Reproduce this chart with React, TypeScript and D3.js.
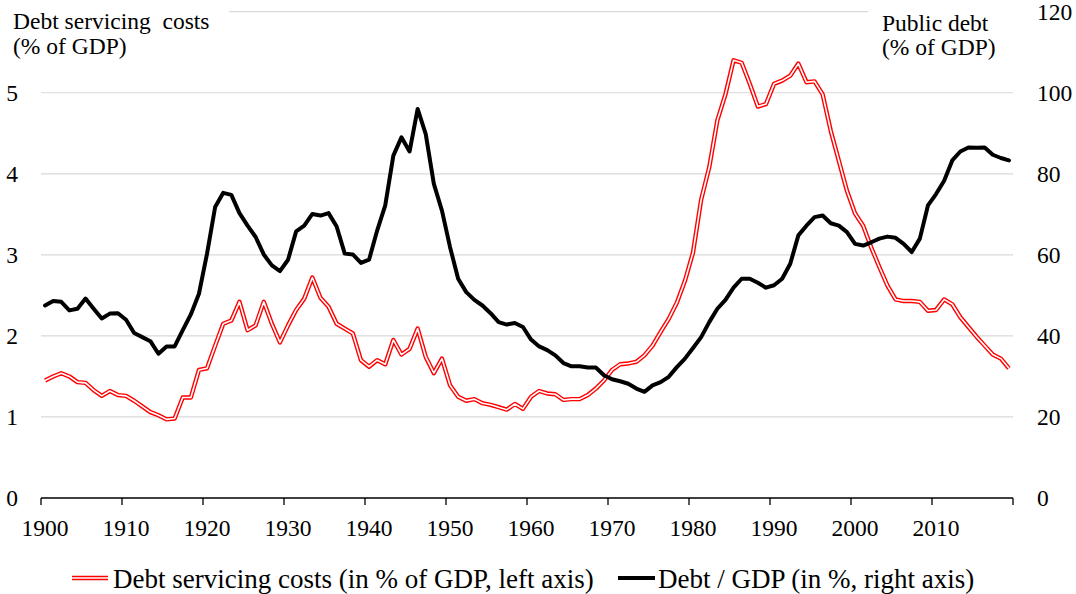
import * as d3 from "d3";

// Annual values, 1900-2019
const firstYear = 1900;
const servicingCosts = [
  1.45, 1.5, 1.54, 1.5, 1.43, 1.42, 1.33, 1.26, 1.32, 1.27,
  1.26, 1.2, 1.13, 1.06, 1.02, 0.97, 0.98, 1.24, 1.24, 1.58,
  1.6, 1.88, 2.15, 2.19, 2.42, 2.07, 2.13, 2.42, 2.15, 1.92,
  2.13, 2.32, 2.46, 2.72, 2.47, 2.36, 2.15, 2.09, 2.03, 1.7,
  1.62, 1.7, 1.65, 1.95, 1.77, 1.84, 2.09, 1.74, 1.54, 1.72,
  1.39, 1.25, 1.2, 1.22, 1.17, 1.15, 1.12, 1.09, 1.16, 1.1,
  1.25, 1.32, 1.29, 1.28, 1.21, 1.22, 1.22, 1.27, 1.35, 1.45,
  1.58, 1.65, 1.66, 1.68, 1.76, 1.88, 2.05, 2.21, 2.41, 2.68,
  3.03, 3.68, 4.08, 4.66, 4.98, 5.4, 5.37, 5.11, 4.83, 4.86,
  5.11, 5.15, 5.21, 5.36, 5.13, 5.14, 4.98, 4.53, 4.16, 3.79,
  3.51, 3.36, 3.09, 2.85, 2.62, 2.45, 2.43, 2.43, 2.42, 2.31,
  2.32, 2.45, 2.39, 2.23, 2.11, 1.99, 1.88, 1.77, 1.72, 1.6,
];
const debtToGdp = [
  47.5, 48.6, 48.4, 46.3, 46.7, 49.2, 46.7, 44.3, 45.5, 45.6,
  44.0, 40.7, 39.7, 38.7, 35.6, 37.4, 37.4, 41.4, 45.3, 50.4,
  60.3, 71.8, 75.3, 74.8, 70.3, 67.2, 64.4, 60.1, 57.4, 56.0,
  58.8, 65.8, 67.2, 70.1, 69.7, 70.3, 67.0, 60.3, 60.1, 58.0,
  58.8, 66.0, 72.2, 84.5, 89.0, 85.5, 96.0, 89.8, 77.5, 70.9,
  61.9, 54.1, 50.8, 48.9, 47.5, 45.6, 43.4, 42.8, 43.2, 42.2,
  39.1, 37.4, 36.5, 35.2, 33.3, 32.5, 32.5, 32.2, 32.2, 30.3,
  29.3, 28.8, 28.2, 27.0, 26.2, 27.8, 28.6, 29.9, 32.3, 34.4,
  37.0, 39.7, 43.4, 46.7, 48.9, 51.9, 54.1, 54.1, 53.1, 51.9,
  52.5, 54.1, 57.8, 64.8, 67.2, 69.3, 69.7, 67.8, 67.2, 65.6,
  62.7, 62.3, 63.1, 64.0, 64.5, 64.2, 62.7, 60.7, 64.0, 72.2,
  75.0, 78.3, 83.3, 85.5, 86.5, 86.4, 86.5, 84.7, 83.9, 83.3,
];
const leftTicks = [0, 1, 2, 3, 4, 5];
const rightTicks = [0, 20, 40, 60, 80, 100, 120];
const gridValues = [1, 2, 3, 4, 5, 6];
const yearLabels = [1900, 1910, 1920, 1930, 1940, 1950, 1960, 1970, 1980, 1990, 2000, 2010];

const leftTitle = ["Debt servicing  costs", "(% of GDP)"];
const rightTitle = ["Public debt", "(% of GDP)"];
const legendRed = "Debt servicing costs (in % of GDP, left axis)";
const legendBlack = "Debt / GDP (in %, right axis)";

const W = 1076;
const H = 594;
const FONT = "'Liberation Serif', 'Times New Roman', serif";

export default function App() {
  const years = servicingCosts.map((_, i) => firstYear + i);
  // categories sit between tick marks, like the original spreadsheet chart
  const x = d3.scaleBand<number>().domain(years).range([41, 1013]);
  const cx = (yr: number) => (x(yr) ?? 0) + x.bandwidth() / 2;
  const yL = d3.scaleLinear().domain([0, 6]).range([498, 11.7]);
  const yR = d3.scaleLinear().domain([0, 120]).range([498, 11.7]);

  const redLine = d3
    .line<number>()
    .x((_, i) => cx(years[i]))
    .y((d) => yL(d));
  const blackLine = d3
    .line<number>()
    .x((_, i) => cx(years[i]))
    .y((d) => yR(d));

  const tickXs = yearLabels.map((yr) => x(yr) ?? 0).concat([x.range()[1]]);

  return (
    <div style={{ position: "absolute", left: 0, top: 0 }}>
      <svg width={W} height={H} style={{ display: "block", background: "#fff" }} fontFamily={FONT}>
        {/* gridlines */}
        {gridValues.map((v) => (
          <line key={v} x1={41} x2={1013} y1={yL(v)} y2={yL(v)} stroke="#d9d9d9" strokeWidth={1.2} />
        ))}
        {/* title backgrounds hide the top gridline */}
        <rect x={0} y={0} width={229} height={62} fill="#fff" />
        <rect x={868} y={0} width={208} height={62} fill="#fff" />

        {/* axis titles */}
        <text x={13} y={29} fontSize={23.5} fill="#000" style={{ whiteSpace: "pre" }}>{leftTitle[0]}</text>
        <text x={13} y={54} fontSize={23.5} fill="#000">{leftTitle[1]}</text>
        <text x={882} y={31} fontSize={23.5} fill="#000">{rightTitle[0]}</text>
        <text x={882} y={55} fontSize={23.5} fill="#000">{rightTitle[1]}</text>

        {/* left axis labels */}
        {leftTicks.map((v) => (
          <text key={v} x={18} y={yL(v)} dy="0.35em" textAnchor="end" fontSize={23.5} fill="#000">
            {v}
          </text>
        ))}
        {/* right axis labels */}
        {rightTicks.map((v) => (
          <text key={v} x={1037} y={yR(v)} dy="0.35em" textAnchor="start" fontSize={23.5} fill="#000">
            {v}
          </text>
        ))}

        {/* x axis */}
        <line x1={41} x2={1013} y1={498} y2={498} stroke="#000" strokeWidth={1.3} />
        {tickXs.map((tx, i) => (
          <line key={i} x1={tx} x2={tx} y1={498} y2={505} stroke="#000" strokeWidth={1.3} />
        ))}
        {yearLabels.map((yr) => (
          <text key={yr} x={cx(yr)} y={536} textAnchor="middle" fontSize={23.5} fill="#000">
            {yr}
          </text>
        ))}

        {/* series: red double line, black thick line */}
        <path d={redLine(servicingCosts) ?? ""} fill="none" stroke="#ff0000" strokeWidth={4.4} strokeLinejoin="round" />
        <path d={redLine(servicingCosts) ?? ""} fill="none" stroke="#fff" strokeWidth={1.6} strokeLinejoin="round" />
        <path d={blackLine(debtToGdp) ?? ""} fill="none" stroke="#000" strokeWidth={4} strokeLinejoin="round" strokeLinecap="round" />

        {/* legend */}
        <line x1={72} x2={108} y1={578} y2={578} stroke="#ff0000" strokeWidth={4.4} />
        <line x1={72} x2={108} y1={578} y2={578} stroke="#fff" strokeWidth={1.6} />
        <text x={113} y={588} fontSize={27} fill="#000">{legendRed}</text>
        <line x1={618} x2={655} y1={578} y2={578} stroke="#000" strokeWidth={4} />
        <text x={658} y={588} fontSize={27} fill="#000">{legendBlack}</text>
      </svg>
    </div>
  );
}
